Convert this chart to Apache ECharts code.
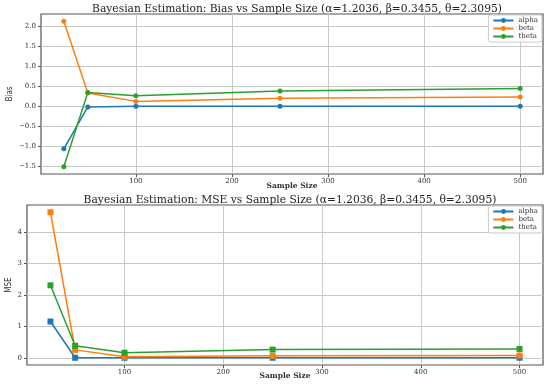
<!DOCTYPE html>
<html><head><meta charset="utf-8">
<script src="https://cdn.jsdelivr.net/npm/echarts@6/dist/echarts.min.js"></script>
<style>html,body{margin:0;padding:0;background:#fff}#c{width:550px;height:384px}</style>
</head><body><div id="c"></div>
<script>
const sampleSizes = [25, 50, 100, 250, 500];
const biasAlpha = [-1.07, -0.02, 0.0, 0.0, 0.0];
const biasBeta = [2.13, 0.33, 0.12, 0.20, 0.23];
const biasTheta = [-1.52, 0.34, 0.26, 0.38, 0.44];
const mseAlpha = [1.15, 0.0, 0.0, 0.0, 0.0];
const mseBeta = [4.62, 0.25, 0.03, 0.06, 0.07];
const mseTheta = [2.30, 0.38, 0.16, 0.26, 0.28];
const seriesNames = ['alpha', 'beta', 'theta'];
const xTicks = [100, 200, 300, 400, 500];
const biasTicks = [-1.5, -1.0, -0.5, 0.0, 0.5, 1.0, 1.5, 2.0];
const mseTicks = [0, 1, 2, 3, 4];
const colors = ['#1f77b4', '#ff7f0e', '#2ca02c'];
const title1 = 'Bayesian Estimation: Bias vs Sample Size (α=1.2036, β=0.3455, θ=2.3095)';
const title2 = 'Bayesian Estimation: MSE vs Sample Size (α=1.2036, β=0.3455, θ=2.3095)';

const serif = 'DejaVu Serif';
const chart = echarts.init(document.getElementById('c'));
const pair = (xs, ys) => xs.map((x, i) => [x, ys[i]]);
const fmtMinus = v => (v < 0 ? '\u2212' : '') + Math.abs(v).toFixed(1);

function xAxis(gi, gap) {
  return {
    gridIndex: gi, type: 'value', min: 1.25, max: 523.75,
    axisLine: {show: false, onZero: false},
    axisTick: {show: true, length: 3, customValues: xTicks, lineStyle: {color: '#555'}},
    axisLabel: {fontFamily: serif, fontSize: 7, color: '#333', margin: 4, customValues: xTicks},
    splitLine: {show: true, lineStyle: {color: '#c8c8c8', width: 1}},
    name: 'Sample Size', nameLocation: 'middle', nameGap: gap, nameMoveOverlap: false,
    nameTextStyle: {fontFamily: serif, fontSize: 7.5, fontWeight: 'bold', color: '#333'}
  };
}
function mk(name, data, idx, gi, symbol) {
  return {
    name, type: 'line', xAxisIndex: gi, yAxisIndex: gi, data,
    symbol, symbolSize: symbol === 'rect' ? 6 : 5, showSymbol: true,
    lineStyle: {width: 1.5, color: colors[idx]}, itemStyle: {color: colors[idx]},
    emphasis: {disabled: true}, animation: false
  };
}
const legendCommon = {
  orient: 'vertical', right: 8, itemWidth: 20, itemHeight: 6, itemGap: 1,
  textStyle: {fontFamily: serif, fontSize: 7, color: '#333'},
  borderColor: '#ccc', borderWidth: 1, borderRadius: 2, padding: [2, 4, 2, 4],
  backgroundColor: 'rgba(255,255,255,0.8)'
};
chart.setOption({
  animation: false,
  title: [
    {text: title1, left: 292, textAlign: 'center', top: -1,
     textStyle: {fontFamily: serif, fontSize: 10.7, fontWeight: 'normal', color: '#222'}},
    {text: title2, left: 285, textAlign: 'center', top: 190,
     textStyle: {fontFamily: serif, fontSize: 10.7, fontWeight: 'normal', color: '#222'}}
  ],
  grid: [
    {left: 41, top: 14, width: 502, height: 160, show: true, borderColor: '#555', borderWidth: 1.2,
     backgroundColor: 'transparent', containLabel: false, outerBoundsMode: 'none'},
    {left: 27, top: 205, width: 516, height: 160, show: true, borderColor: '#555', borderWidth: 1.2,
     backgroundColor: 'transparent', containLabel: false, outerBoundsMode: 'none'}
  ],
  legend: [
    Object.assign({data: seriesNames.slice(), top: 15}, legendCommon),
    Object.assign({data: seriesNames.slice(), top: 206}, legendCommon)
  ],
  xAxis: [xAxis(0, 8), xAxis(1, 7)],
  yAxis: [
    {gridIndex: 0, type: 'value', min: -1.7, max: 2.31,
     axisLine: {show: false, onZero: false},
     axisTick: {show: true, length: 3, customValues: biasTicks, lineStyle: {color: '#555'}},
     axisLabel: {fontFamily: serif, fontSize: 7, color: '#333', margin: 5, customValues: biasTicks, formatter: fmtMinus},
     splitLine: {show: true, lineStyle: {color: '#c8c8c8', width: 1}},
     name: 'Bias', nameLocation: 'middle', nameGap: 27, nameRotate: 90, nameMoveOverlap: false,
     nameTextStyle: {fontFamily: 'DejaVu Sans Condensed', fontSize: 8, color: '#333'}},
    {gridIndex: 1, type: 'value', min: -0.23, max: 4.85,
     axisLine: {show: false, onZero: false},
     axisTick: {show: true, length: 3, customValues: mseTicks, lineStyle: {color: '#555'}},
     axisLabel: {fontFamily: serif, fontSize: 7, color: '#333', margin: 5, customValues: mseTicks,
       formatter: v => String(Math.round(v))},
     splitLine: {show: true, lineStyle: {color: '#c8c8c8', width: 1}},
     name: 'MSE', nameLocation: 'middle', nameGap: 14, nameRotate: 90, nameMoveOverlap: false,
     nameTextStyle: {fontFamily: 'DejaVu Sans Condensed', fontSize: 8, color: '#333'}}
  ],
  series: [
    mk('alpha', pair(sampleSizes, biasAlpha), 0, 0, 'circle'),
    mk('beta', pair(sampleSizes, biasBeta), 1, 0, 'circle'),
    mk('theta', pair(sampleSizes, biasTheta), 2, 0, 'circle'),
    mk('alpha', pair(sampleSizes, mseAlpha), 0, 1, 'rect'),
    mk('beta', pair(sampleSizes, mseBeta), 1, 1, 'rect'),
    mk('theta', pair(sampleSizes, mseTheta), 2, 1, 'rect')
  ]
});
</script></body></html>
